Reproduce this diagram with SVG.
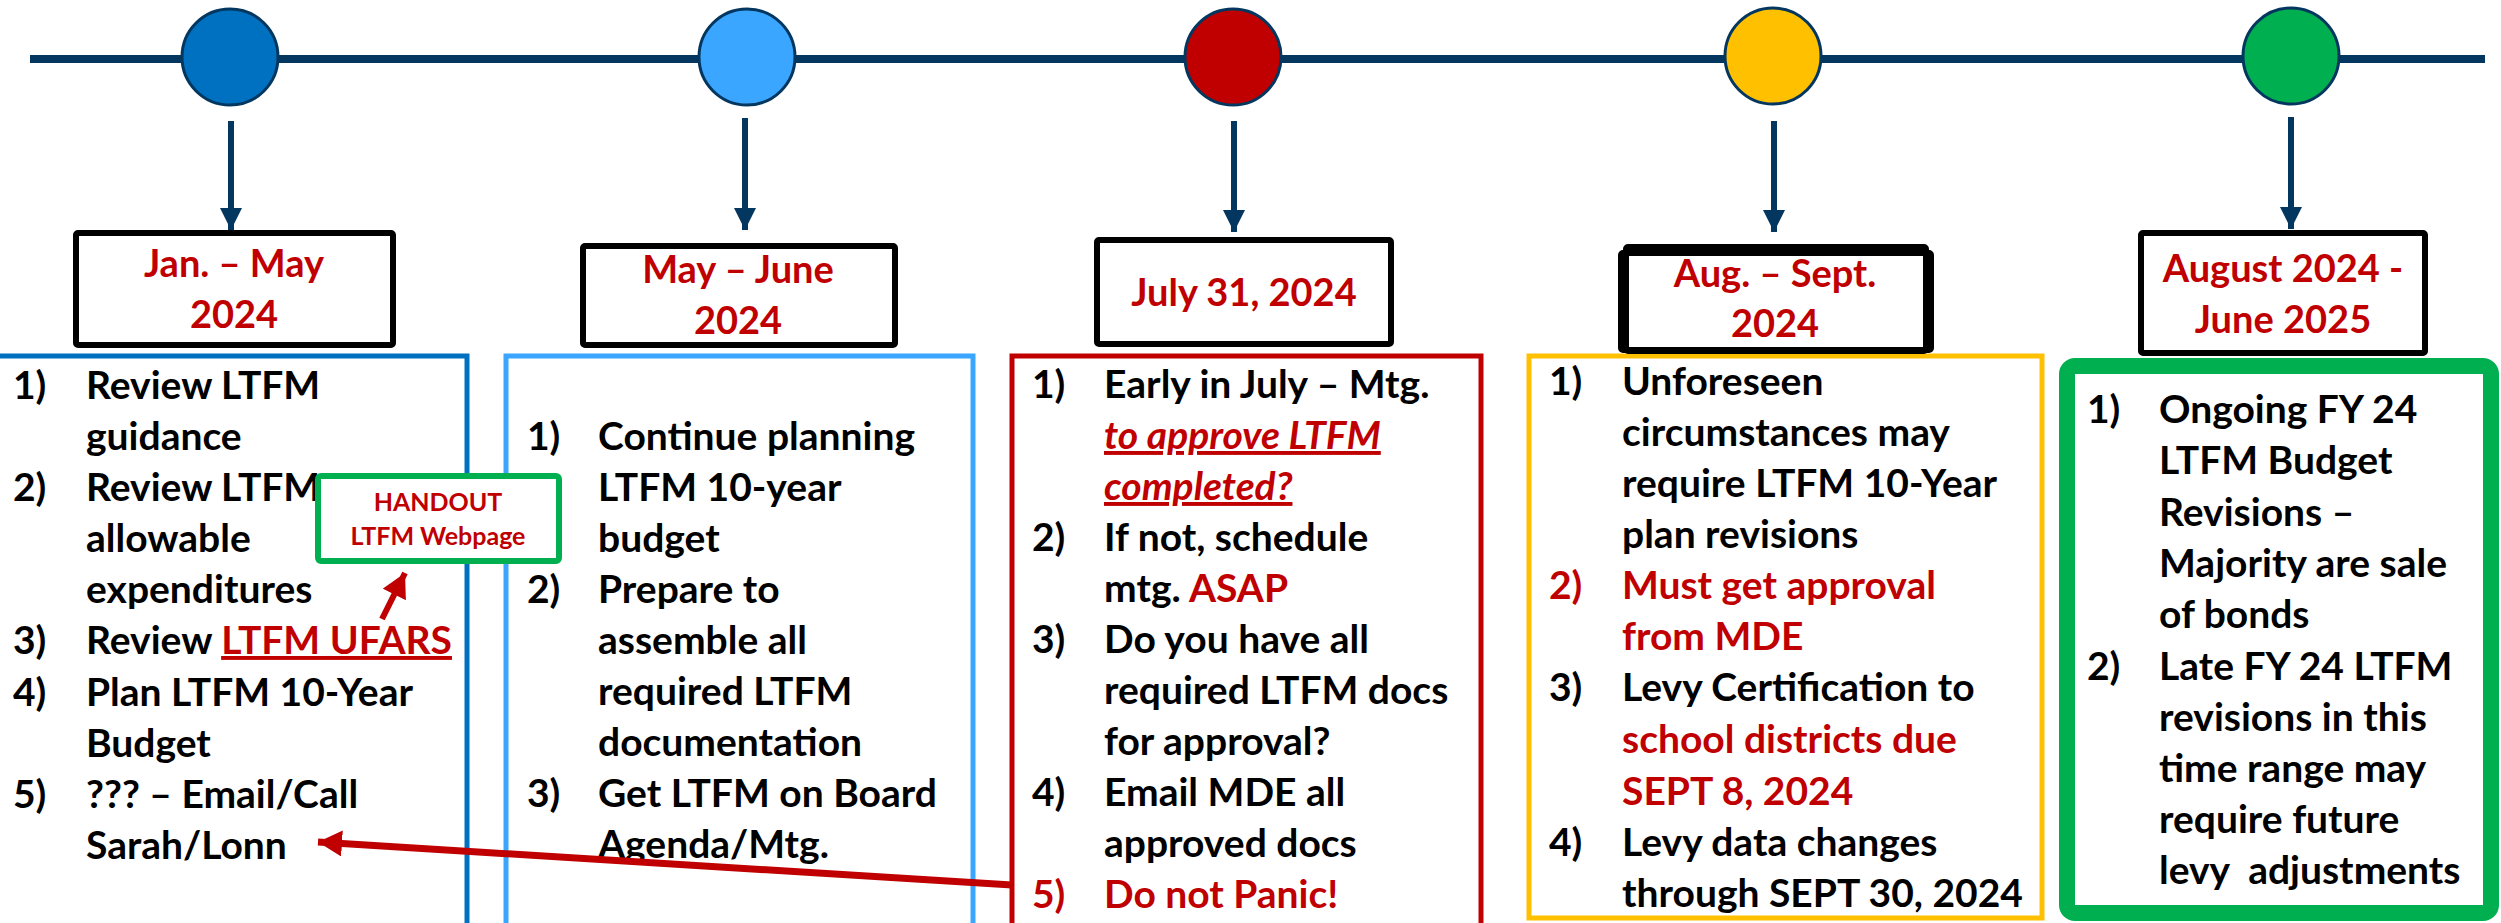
<svg xmlns="http://www.w3.org/2000/svg" width="2501" height="923" viewBox="0 0 2501 923">
<style>
.t{font-family:Lato,"Liberation Sans",sans-serif;font-weight:700;font-size:39px;fill:#000}
.r{fill:#C00000}
.d{font-family:Lato,"Liberation Sans",sans-serif;font-weight:700;font-size:38px;fill:#C00000;text-anchor:middle}
.h{font-family:Lato,"Liberation Sans",sans-serif;font-weight:700;font-size:25px;fill:#C00000;text-anchor:middle}
.ul{text-decoration:underline}
.it{font-style:italic}
.dbox{fill:#fff;stroke:#000;stroke-width:6}
.cbox{fill:#fff;stroke-width:5}
.node{stroke:#03375F;stroke-width:3}
.nav{stroke:#03375F;stroke-width:6;fill:none}
.red{stroke:#C00000;fill:none}
</style>
<defs>
<marker id="ah" markerUnits="userSpaceOnUse" markerWidth="24" markerHeight="24" refX="22" refY="11" orient="auto">
<path d="M0,0 L22,11 L0,22 Z" fill="#03375F"/>
</marker>
<marker id="ahr" markerUnits="userSpaceOnUse" markerWidth="26" markerHeight="28" refX="24" refY="13" orient="auto">
<path d="M0,0 L24,13 L0,26 Z" fill="#C00000"/>
</marker>
</defs>
<rect width="2501" height="923" fill="#fff"/>
<line x1="30" y1="59" x2="2485" y2="59" stroke="#03375F" stroke-width="8"/>
<g id="dot1"><circle class="node" cx="230" cy="57" r="48" fill="#0070C0"/></g>
<g id="dot2"><circle class="node" cx="747" cy="57" r="48" fill="#3AA6FF"/></g>
<g id="dot3"><circle class="node" cx="1233" cy="57" r="48" fill="#C00000"/></g>
<g id="dot4"><circle class="node" cx="1773" cy="56" r="48" fill="#FFC000"/></g>
<g id="dot5"><circle class="node" cx="2291" cy="56" r="48" fill="#00B050"/></g>

<g id="panel1">
<rect class="cbox" x="-3" y="356" width="470" height="600" stroke="#0070C0"/>
<text class="t"><tspan x="13" y="399">1)</tspan><tspan x="86" y="399">Review LTFM</tspan>
<tspan x="86" y="450">guidance</tspan>
<tspan x="13" y="501">2)</tspan><tspan x="86" y="501">Review LTFM</tspan>
<tspan x="86" y="552">allowable</tspan>
<tspan x="86" y="603">expenditures</tspan>
<tspan x="13" y="654">3)</tspan><tspan x="86" y="654">Review <tspan class="r ul">LTFM UFARS</tspan></tspan>
<tspan x="13" y="706">4)</tspan><tspan x="86" y="706">Plan LTFM 10-Year</tspan>
<tspan x="86" y="757">Budget</tspan>
<tspan x="13" y="808">5)</tspan><tspan x="86" y="808">??? – Email/Call</tspan>
<tspan x="86" y="859">Sarah/Lonn</tspan></text>
</g>

<g id="panel2">
<rect class="cbox" x="506" y="356" width="467" height="600" stroke="#3AA6FF"/>
<text class="t"><tspan x="527" y="450">1)</tspan><tspan x="598" y="450">Continue planning</tspan>
<tspan x="598" y="501">LTFM 10-year</tspan>
<tspan x="598" y="552">budget</tspan>
<tspan x="527" y="603">2)</tspan><tspan x="598" y="603">Prepare to</tspan>
<tspan x="598" y="654">assemble all</tspan>
<tspan x="598" y="705">required LTFM</tspan>
<tspan x="598" y="756">documentation</tspan>
<tspan x="527" y="807">3)</tspan><tspan x="598" y="807">Get LTFM on Board</tspan>
<tspan x="598" y="858">Agenda/Mtg.</tspan></text>
</g>

<g id="panel3">
<rect class="cbox" x="1012" y="356" width="469" height="600" stroke="#C00000"/>
<text class="t"><tspan x="1032" y="398">1)</tspan><tspan x="1104" y="398">Early in July – Mtg.</tspan>
<tspan x="1104" y="449" class="r it ul">to approve LTFM</tspan>
<tspan x="1104" y="500" class="r it ul">completed?</tspan>
<tspan x="1032" y="551">2)</tspan><tspan x="1104" y="551">If not, schedule</tspan>
<tspan x="1104" y="602">mtg. <tspan class="r">ASAP</tspan></tspan>
<tspan x="1032" y="653">3)</tspan><tspan x="1104" y="653">Do you have all</tspan>
<tspan x="1104" y="704">required LTFM docs</tspan>
<tspan x="1104" y="755">for approval?</tspan>
<tspan x="1032" y="806">4)</tspan><tspan x="1104" y="806">Email MDE all</tspan>
<tspan x="1104" y="857">approved docs</tspan>
<tspan x="1032" y="908" class="r">5)</tspan><tspan x="1104" y="908" class="r">Do not Panic!</tspan></text>
</g>

<g id="panel4">
<rect class="cbox" x="1529" y="356" width="513" height="562" stroke="#FFC000"/>
<text class="t"><tspan x="1549" y="395">1)</tspan><tspan x="1622" y="395">Unforeseen</tspan>
<tspan x="1622" y="446">circumstances may</tspan>
<tspan x="1622" y="497">require LTFM 10-Year</tspan>
<tspan x="1622" y="548">plan revisions</tspan>
<tspan x="1549" y="599" class="r">2)</tspan><tspan x="1622" y="599" class="r">Must get approval</tspan>
<tspan x="1622" y="650" class="r">from MDE</tspan>
<tspan x="1549" y="701">3)</tspan><tspan x="1622" y="701">Levy Certification to</tspan>
<tspan x="1622" y="753" class="r">school districts due</tspan>
<tspan x="1622" y="805" class="r">SEPT 8, 2024</tspan>
<tspan x="1549" y="856">4)</tspan><tspan x="1622" y="856">Levy data changes</tspan>
<tspan x="1622" y="907">through SEPT 30, 2024</tspan></text>
</g>

<g id="panel5">
<rect x="2067" y="366" width="424" height="547" rx="8" fill="#fff" stroke="#00B050" stroke-width="16"/>
<text class="t"><tspan x="2087" y="423">1)</tspan><tspan x="2159" y="423">Ongoing FY 24</tspan>
<tspan x="2159" y="474">LTFM Budget</tspan>
<tspan x="2159" y="526">Revisions –</tspan>
<tspan x="2159" y="577">Majority are sale</tspan>
<tspan x="2159" y="628">of bonds</tspan>
<tspan x="2087" y="680">2)</tspan><tspan x="2159" y="680">Late FY 24 LTFM</tspan>
<tspan x="2159" y="731">revisions in this</tspan>
<tspan x="2159" y="782">time range may</tspan>
<tspan x="2159" y="833">require future</tspan>
<tspan x="2159" y="884" xml:space="preserve">levy  adjustments</tspan></text>
</g>

<g id="date1">
<rect class="dbox" x="76" y="233" width="317" height="112" rx="2"/>
<text class="d"><tspan x="234" y="277">Jan. – May</tspan><tspan x="234" y="328">2024</tspan></text>
</g>
<g id="date2">
<rect class="dbox" x="583" y="246" width="312" height="99" rx="2"/>
<text class="d"><tspan x="738" y="283">May – June</tspan><tspan x="738" y="334">2024</tspan></text>
</g>
<g id="date3">
<rect class="dbox" x="1097" y="240" width="294" height="104" rx="2"/>
<text class="d" x="1244" y="306">July 31, 2024</text>
</g>
<g id="date4">
<rect class="dbox" x="1626" y="247" width="300" height="104" rx="2"/>
<rect class="dbox" x="1621" y="253" width="310" height="97" rx="2" fill="none" style="fill:none"/>
<text class="d"><tspan x="1775" y="287">Aug. – Sept.</tspan><tspan x="1775" y="337">2024</tspan></text>
</g>
<g id="date5">
<rect class="dbox" x="2141" y="233" width="284" height="120" rx="2"/>
<text class="d"><tspan x="2283" y="282">August 2024 -</tspan><tspan x="2283" y="333">June 2025</tspan></text>
</g>

<g id="handout">
<rect x="318" y="476" width="241" height="85" rx="3" fill="#fff" stroke="#00B050" stroke-width="6"/>
<text class="h"><tspan x="438" y="511">HANDOUT</tspan><tspan x="438" y="545">LTFM Webpage</tspan></text>
</g>

<g id="connectors">
<line class="nav" x1="231" y1="121" x2="231" y2="230" marker-end="url(#ah)"/>
<line class="nav" x1="745" y1="118" x2="745" y2="230" marker-end="url(#ah)"/>
<line class="nav" x1="1234" y1="121" x2="1234" y2="232" marker-end="url(#ah)"/>
<line class="nav" x1="1774" y1="121" x2="1774" y2="232" marker-end="url(#ah)"/>
<line class="nav" x1="2291" y1="117" x2="2291" y2="229" marker-end="url(#ah)"/>
<line class="red" stroke-width="7" x1="1012" y1="885" x2="318" y2="842" marker-end="url(#ahr)"/>
<line class="red" stroke-width="6" x1="382" y1="619" x2="405" y2="573" marker-end="url(#ahr)"/>
</g>
</svg>
